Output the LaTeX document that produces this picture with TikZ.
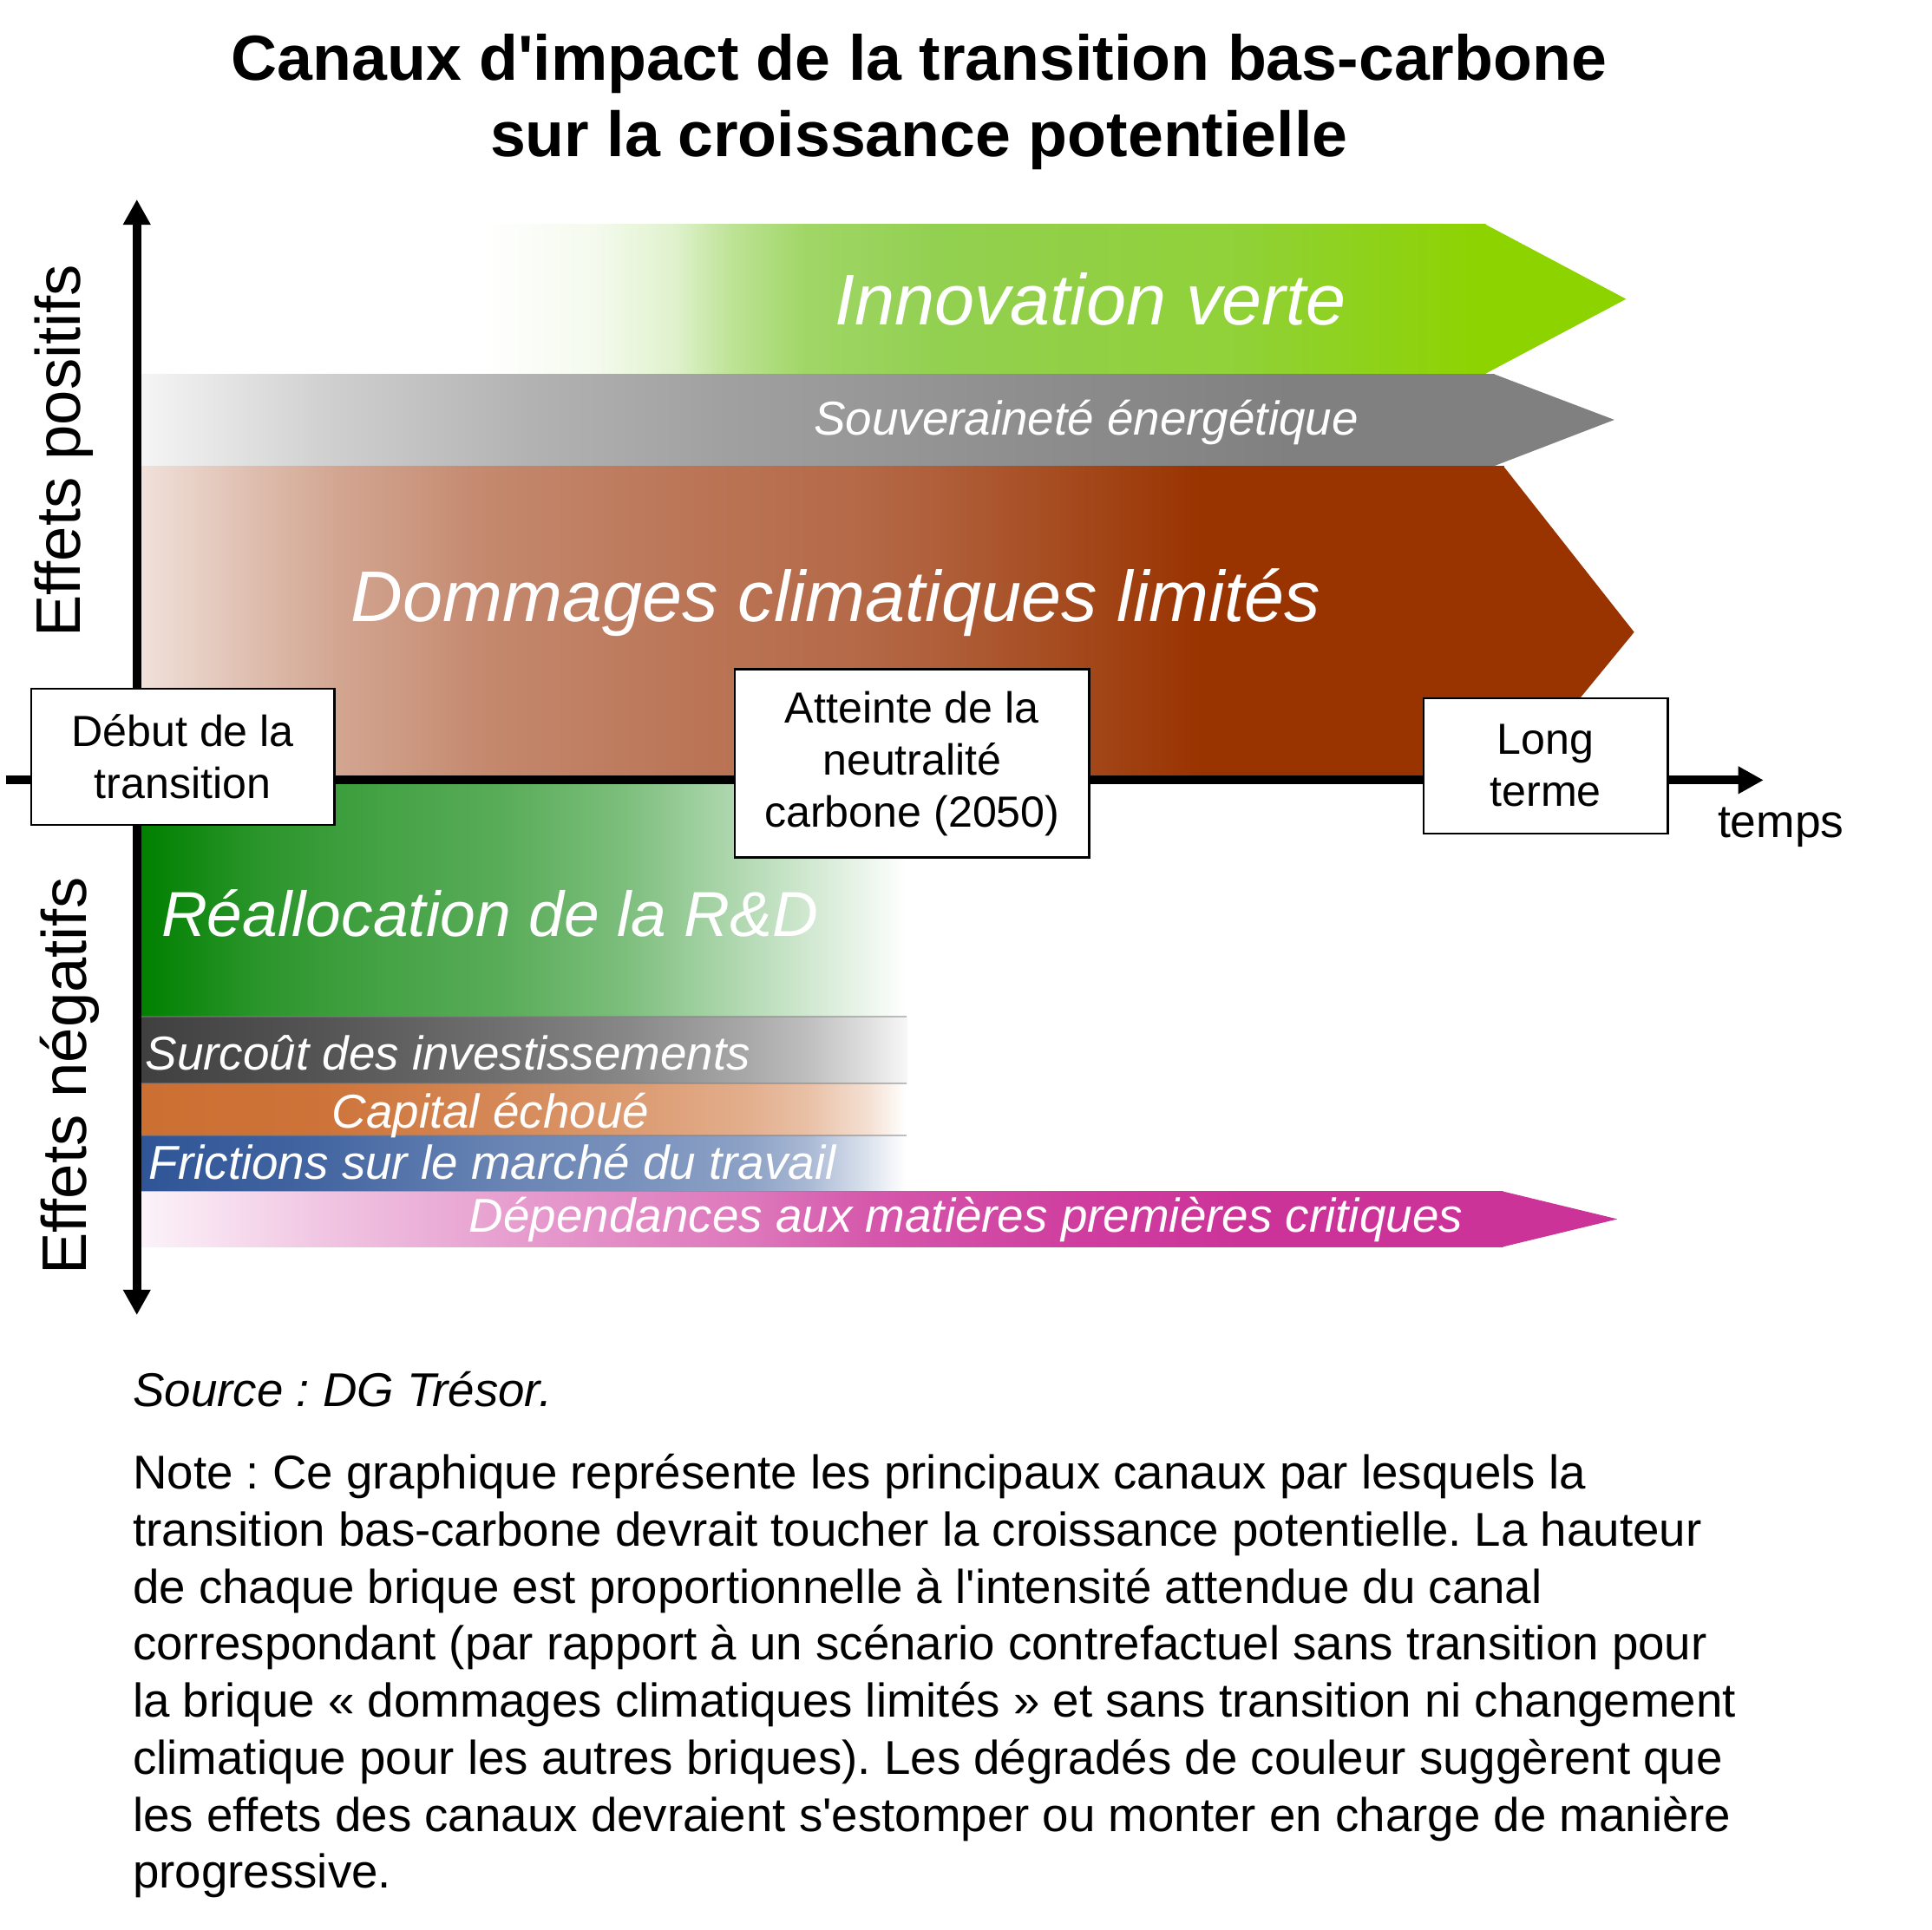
\documentclass[tikz,border=0pt]{standalone}
\usepackage{fontspec}
\setmainfont{Liberation Sans}[Ligatures=TeXOff]
\usetikzlibrary{arrows.meta}
\frenchspacing

\definecolor{innovA}{HTML}{92D050}
\definecolor{innovB}{HTML}{8DD300}
\definecolor{domA}{HTML}{B87050}
\definecolor{domB}{HTML}{993300}
\definecolor{rdA}{HTML}{008000}
\definecolor{capA}{HTML}{CC6F33}
\definecolor{fricA}{HTML}{2F5597}
\definecolor{depA}{HTML}{CC3399}

\tikzset{
  brickL/.style={text=white, inner sep=0pt, font=\itshape\fontsize{33}{40}\selectfont},
  brickM/.style={text=white, inner sep=0pt, font=\itshape\fontsize{29.2}{35}\selectfont},
  brickS/.style={text=white, inner sep=0pt, font=\itshape\fontsize{21.85}{26}\selectfont},
  jalon/.style={draw, line width=0.9pt, fill=white, align=center, inner sep=0pt,
    font=\fontsize{20}{23.9}\selectfont},
  axe/.style={line width=4pt, >={Triangle[length=0.41cm,width=0.42cm]}},
}

\begin{document}
\begin{tikzpicture}[x=0.02cm,y=-0.02cm]
  \fill[white] (0,0) rectangle (1560,1558);
  \useasboundingbox (0,0) rectangle (1560,1558);

  % degrades des briques
  \foreach \xa/\xb/\ya/\yb/\ca/\cb in {
    390/480/181/302/white/innovA!10, 480/545/181/302/innovA!10/innovA!29,
    545/590/181/302/innovA!29/innovA!60, 590/650/181/302/innovA!60/innovA!87,
    650/760/181/302/innovA!87/innovA, 760/1000/181/302/innovA/innovA!70!innovB,
    1000/1199/181/302/innovA!70!innovB/innovB,
    114/268/302/376.5/black!4/black!19, 268/425/302/376.5/black!19/black!30,
    425/581/302/376.5/black!30/black!37, 581/815/302/376.5/black!37/black!44,
    815/1050/302/376.5/black!44/black!50, 1050/1206/302/376.5/black!50/black!50,
    114/197/376.5/630/domA!21/domA!44, 197/270/376.5/630/domA!44/domA!62,
    270/393/376.5/630/domA!62/domA!83, 393/541/376.5/630/domA!83/domA!95,
    541/688/376.5/630/domA!95/domB!10!domA, 688/770/376.5/630/domB!10!domA/domB!32!domA,
    770/871/376.5/630/domB!32!domA/domB!65!domA, 871/972/376.5/630/domB!65!domA/domB,
    972/1214/376.5/630/domB/domB,
    114/210/630/821/rdA/rdA!83, 210/309/630/821/rdA!83/rdA!73,
    309/407/630/821/rdA!73/rdA!65, 407/505/630/821/rdA!65/rdA!51,
    505/554/630/821/rdA!51/rdA!40, 554/603/630/821/rdA!40/rdA!29,
    603/653/630/821/rdA!29/rdA!18, 653/702/630/821/rdA!18/rdA!7,
    702/731/630/821/rdA!7/white,
    114/259/821/875/black!75/black!67, 259/407/821/875/black!67/black!56,
    407/505/821/875/black!56/black!47, 505/603/821/875/black!47/black!34,
    603/653/821/875/black!34/black!25, 653/702/821/875/black!25/black!12,
    702/732/821/875/black!12/black!3,
    114/259/875/917/capA/capA!97, 259/407/875/917/capA!97/capA!82,
    407/505/875/917/capA!82/capA!70, 505/603/875/917/capA!70/capA!56,
    603/653/875/917/capA!56/capA!43, 653/702/875/917/capA!43/capA!21,
    702/731/875/917/capA!21/white,
    114/259/917/962/fricA/fricA!90, 259/407/917/962/fricA!90/fricA!72,
    407/505/917/962/fricA!72/fricA!65, 505/603/917/962/fricA!65/fricA!55,
    603/653/917/962/fricA!55/fricA!41, 653/702/917/962/fricA!41/fricA!16,
    702/731/917/962/fricA!16/white,
    114/259/962/1007/depA!6/depA!28, 259/407/962/1007/depA!28/depA!47,
    407/505/962/1007/depA!47/depA!57, 505/603/962/1007/depA!57/depA!66,
    603/702/962/1007/depA!66/depA!82, 702/859/962/1007/depA!82/depA!94,
    859/1000/962/1007/depA!94/depA, 1000/1213/962/1007/depA/depA} {
    \shade[left color=\ca, right color=\cb] (\xa,\ya) rectangle (\xb+0.6,\yb);
  }
  % liserés entre les briques du bas
  \foreach \y in {821,875,917,962}
    \draw[black!50, opacity=0.5, line width=0.5pt] (114,\y) -- (732,\y);
  % pointes
  \fill[innovB] (1199,181) -- (1313,241.5) -- (1199,302) -- cycle;
  \fill[black!50] (1206,302) -- (1303.5,339) -- (1206,376.5) -- cycle;
  \fill[domB] (1214,376.5) -- (1319.5,510.5) -- (1221.5,630) -- (1214,630) -- cycle;
  \fill[depA] (1213,962) -- (1306,984.5) -- (1213,1007) -- cycle;

  % axes
  \coordinate (xg) at (5,630);
  \coordinate (xd) at (1424,630);
  \coordinate (yb) at (110.5,1062);
  \coordinate (yh) at (110.5,161);
  \draw[axe, ->] (xg) -- (xd);
  \draw[axe, <->] (yb) -- (yh);

  % jalons
  \node[jalon, minimum width=245*0.02cm, minimum height=110*0.02cm] (debut) at (147.5,611) {Début de la\\transition};
  \node[jalon, minimum width=286*0.02cm, minimum height=152*0.02cm] (neutralite) at (736.5,616.5) {Atteinte de la\\neutralité\\carbone (2050)};
  \node[jalon, minimum width=197.5*0.02cm, minimum height=109*0.02cm] (longterme) at (1248,618.5) {Long\\terme};
  \node[inner sep=0pt, font=\fontsize{21.3}{25}\selectfont] (temps) at (1438,668) {temps};

  % textes des briques
  \node[brickL, anchor=base] (innov) at (880.5,262) {Innovation verte};
  \node[brickS, anchor=base] (souv) at (877,351) {Souveraineté énergétique};
  \node[brickL, anchor=base] (dommages) at (675,502) {Dommages climatiques limités};
  \node[brickM, anchor=base west] (rd) at (130,756) {Réallocation de la R\&D};
  \node[brickS, anchor=base west] (surcout) at (117,864) {Surcoût des investissements};
  \node[brickS, anchor=base] (capital) at (396,911) {Capital échoué};
  \node[brickS, anchor=base west] (frictions) at (120,952) {Frictions sur le marché du travail};
  \node[brickS, anchor=base] (dependances) at (780,995) {Dépendances aux matières premières critiques};

  % titre et axes
  \node[inner sep=0pt, anchor=north, align=center, font=\bfseries\fontsize{29.3}{35.3}\selectfont] (titre) at (742,27)
    {Canaux d'impact de la transition bas-carbone\\sur la croissance potentielle};
  \node[inner sep=0pt, anchor=base, rotate=90, font=\fontsize{28.9}{34}\selectfont] (positifs) at (65,364) {Effets positifs};
  \node[inner sep=0pt, anchor=base, rotate=90, font=\fontsize{28.9}{34}\selectfont] (negatifs) at (70,869) {Effets négatifs};

  % source et note
  \node[inner sep=0pt, anchor=base west, font=\itshape\fontsize{21.8}{26.2}\selectfont] (source) at (107,1136) {Source : DG Trésor.};
  \node[inner sep=0pt, anchor=north west, align=left, font=\fontsize{21.8}{26.2}\selectfont] (note) at (107,1174)
    {Note : Ce graphique représente les principaux canaux par lesquels la\\
     transition bas-carbone devrait toucher la croissance potentielle. La hauteur\\
     de chaque brique est proportionnelle à l'intensité attendue du canal\\
     correspondant (par rapport à un scénario contrefactuel sans transition pour\\
     la brique « dommages climatiques limités » et sans transition ni changement\\
     climatique pour les autres briques). Les dégradés de couleur suggèrent que\\
     les effets des canaux devraient s'estomper ou monter en charge de manière\\
     progressive.};
\end{tikzpicture}
\end{document}
